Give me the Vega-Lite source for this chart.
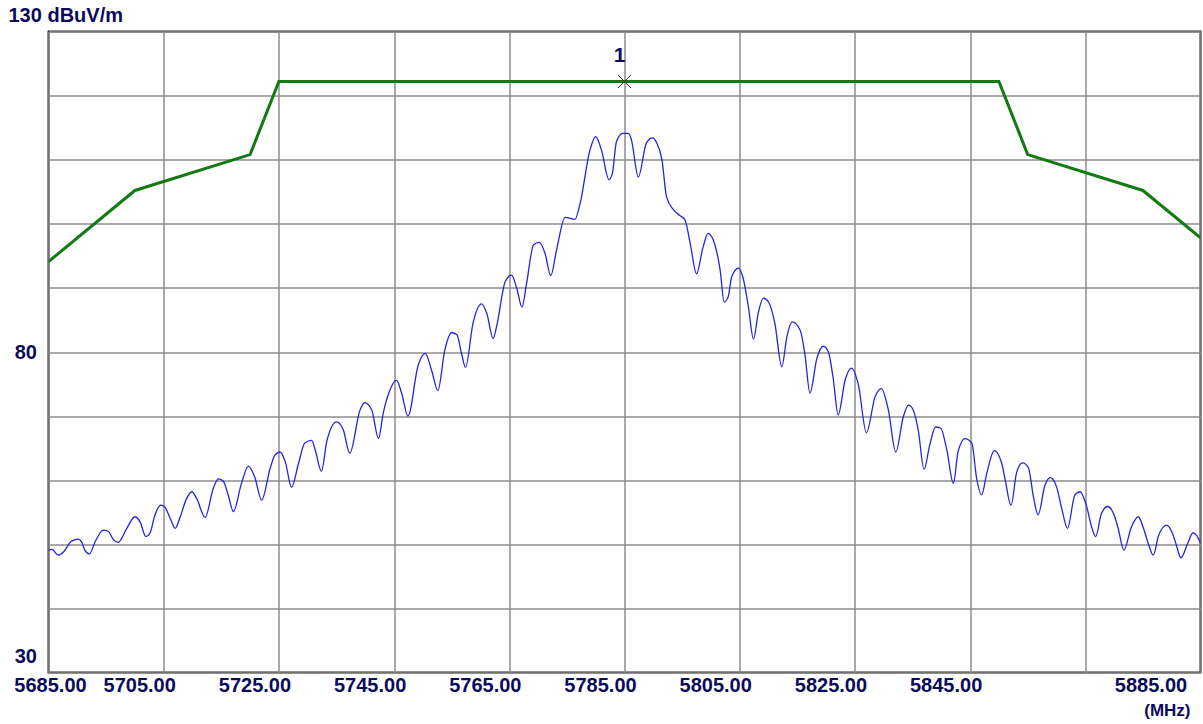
{
  "$schema": "https://vega.github.io/schema/vega-lite/v6.json",
  "width": 1152,
  "height": 641,
  "autosize": "none",
  "padding": {"left": 48.5, "top": 31.5, "right": 2.5, "bottom": 51.5},
  "background": "white",
  "config": {
    "view": {"stroke": "#222222", "strokeWidth": 2},
    "font": "Liberation Sans"
  },
  "datasets": {
    "limit": [
      {"f": 5685, "v": 94.1}, {"f": 5700, "v": 105.2}, {"f": 5720, "v": 110.8}, {"f": 5725, "v": 122.2},
      {"f": 5850, "v": 122.2}, {"f": 5855, "v": 110.8}, {"f": 5875, "v": 105.2}, {"f": 5885, "v": 97.8}
    ],
    "marker": [{"f": 5785, "v": 122.2, "label": "1"}],
    "trace": [
      {"f":5685.0,"v":49.1},{"f":5685.6,"v":49.2},{"f":5686.7,"v":48.3},{"f":5687.6,"v":48.8},{"f":5689.0,"v":50.5},
      {"f":5690.2,"v":50.8},{"f":5690.8,"v":50.3},{"f":5691.3,"v":49.1},{"f":5692.1,"v":48.5},{"f":5693.1,"v":50.4},
      {"f":5694.5,"v":52.2},{"f":5695.4,"v":52.0},{"f":5696.2,"v":50.8},{"f":5697.1,"v":50.3},{"f":5698.6,"v":52.5},
      {"f":5700.0,"v":54.3},{"f":5700.9,"v":53.5},{"f":5701.9,"v":51.2},{"f":5702.6,"v":51.7},{"f":5703.5,"v":54.6},
      {"f":5704.5,"v":56.1},{"f":5705.2,"v":55.8},{"f":5706.1,"v":54.1},{"f":5707.0,"v":52.5},{"f":5707.8,"v":54.1},
      {"f":5709.0,"v":57.2},{"f":5709.9,"v":58.2},{"f":5710.7,"v":57.2},{"f":5712.2,"v":54.2},{"f":5713.6,"v":58.7},
      {"f":5714.5,"v":60.2},{"f":5715.3,"v":59.9},{"f":5716.2,"v":57.7},{"f":5717.1,"v":55.1},{"f":5718.5,"v":59.5},
      {"f":5719.7,"v":62.2},{"f":5720.8,"v":60.5},{"f":5722.0,"v":56.9},{"f":5723.5,"v":61.9},{"f":5724.3,"v":63.9},
      {"f":5725.2,"v":64.4},{"f":5726.1,"v":62.9},{"f":5727.2,"v":58.9},{"f":5728.4,"v":62.6},{"f":5729.5,"v":65.8},
      {"f":5730.7,"v":66.2},{"f":5731.3,"v":64.7},{"f":5732.4,"v":61.4},{"f":5733.3,"v":66.0},{"f":5735.0,"v":69.1},
      {"f":5736.2,"v":67.8},{"f":5737.3,"v":64.2},{"f":5739.1,"v":71.0},{"f":5739.9,"v":72.1},{"f":5741.1,"v":71.0},
      {"f":5742.3,"v":66.5},{"f":5743.1,"v":70.4},{"f":5744.3,"v":74.1},{"f":5745.4,"v":75.6},{"f":5746.3,"v":73.6},
      {"f":5747.4,"v":70.0},{"f":5749.2,"v":78.0},{"f":5750.4,"v":79.8},{"f":5751.5,"v":77.2},{"f":5752.6,"v":74.0},
      {"f":5753.8,"v":80.3},{"f":5755.0,"v":83.0},{"f":5755.9,"v":82.7},{"f":5756.7,"v":79.8},{"f":5757.4,"v":77.6},
      {"f":5758.7,"v":84.5},{"f":5760.2,"v":87.5},{"f":5761.1,"v":86.0},{"f":5762.2,"v":82.1},{"f":5762.8,"v":84.0},
      {"f":5764.3,"v":91.0},{"f":5765.4,"v":92.0},{"f":5766.3,"v":89.9},{"f":5767.2,"v":87.0},{"f":5768.0,"v":90.7},
      {"f":5769.2,"v":96.7},{"f":5770.2,"v":97.1},{"f":5771.2,"v":95.4},{"f":5772.2,"v":91.9},{"f":5773.2,"v":95.9},
      {"f":5774.7,"v":101.0},{"f":5776.4,"v":100.7},{"f":5777.3,"v":103.2},{"f":5779.0,"v":111.5},{"f":5780.0,"v":113.6},
      {"f":5781.0,"v":111.5},{"f":5782.3,"v":106.9},{"f":5782.9,"v":107.9},{"f":5783.6,"v":112.8},{"f":5784.7,"v":114.1},
      {"f":5785.7,"v":114.1},{"f":5786.2,"v":113.1},{"f":5787.4,"v":107.3},{"f":5788.8,"v":112.6},{"f":5789.9,"v":113.4},
      {"f":5790.6,"v":112.6},{"f":5791.5,"v":110.0},{"f":5792.3,"v":104.2},{"f":5793.5,"v":102.2},{"f":5794.6,"v":101.3},
      {"f":5795.5,"v":100.6},{"f":5796.4,"v":97.0},{"f":5797.5,"v":92.2},{"f":5798.6,"v":96.2},{"f":5799.5,"v":98.5},
      {"f":5800.7,"v":96.7},{"f":5801.6,"v":92.8},{"f":5802.3,"v":87.8},{"f":5803.0,"v":88.6},{"f":5803.6,"v":91.7},
      {"f":5804.8,"v":93.1},{"f":5805.6,"v":91.5},{"f":5806.5,"v":87.1},{"f":5807.4,"v":82.0},{"f":5808.2,"v":86.0},
      {"f":5809.1,"v":88.4},{"f":5810.0,"v":87.8},{"f":5811.1,"v":84.5},{"f":5812.3,"v":77.7},{"f":5813.2,"v":82.4},
      {"f":5814.1,"v":84.7},{"f":5815.5,"v":83.4},{"f":5816.3,"v":79.8},{"f":5817.2,"v":73.6},{"f":5818.4,"v":79.0},
      {"f":5819.5,"v":80.9},{"f":5820.4,"v":80.0},{"f":5821.2,"v":76.1},{"f":5822.1,"v":70.2},{"f":5823.3,"v":75.6},
      {"f":5824.4,"v":77.5},{"f":5825.6,"v":74.9},{"f":5827.0,"v":67.4},{"f":5828.5,"v":73.0},{"f":5829.6,"v":74.3},
      {"f":5830.8,"v":71.0},{"f":5832.1,"v":64.4},{"f":5833.4,"v":69.9},{"f":5834.3,"v":71.7},{"f":5835.1,"v":71.0},
      {"f":5836.0,"v":67.8},{"f":5837.0,"v":61.7},{"f":5838.0,"v":65.5},{"f":5839.0,"v":68.3},{"f":5839.9,"v":68.1},
      {"f":5840.9,"v":65.0},{"f":5842.1,"v":59.5},{"f":5842.9,"v":64.4},{"f":5844.1,"v":66.5},{"f":5845.3,"v":65.8},
      {"f":5846.1,"v":60.5},{"f":5847.0,"v":57.7},{"f":5847.9,"v":61.1},{"f":5849.2,"v":64.6},{"f":5850.5,"v":62.6},
      {"f":5851.1,"v":60.0},{"f":5852.1,"v":56.1},{"f":5853.1,"v":61.3},{"f":5854.1,"v":62.7},{"f":5855.1,"v":62.0},
      {"f":5856.0,"v":57.4},{"f":5856.8,"v":54.6},{"f":5858.0,"v":59.2},{"f":5858.9,"v":60.4},{"f":5860.0,"v":59.0},
      {"f":5860.9,"v":55.6},{"f":5861.9,"v":52.5},{"f":5863.2,"v":57.7},{"f":5864.1,"v":58.2},{"f":5865.2,"v":56.0},
      {"f":5866.1,"v":52.7},{"f":5866.8,"v":51.2},{"f":5867.8,"v":54.8},{"f":5868.9,"v":55.9},{"f":5869.9,"v":54.8},
      {"f":5870.7,"v":52.5},{"f":5871.7,"v":49.1},{"f":5873.0,"v":52.7},{"f":5874.2,"v":54.3},{"f":5875.1,"v":52.5},
      {"f":5875.9,"v":50.2},{"f":5876.8,"v":48.3},{"f":5877.7,"v":51.3},{"f":5879.1,"v":53.0},{"f":5880.0,"v":52.0},
      {"f":5880.7,"v":50.2},{"f":5881.6,"v":47.9},{"f":5882.8,"v":50.2},{"f":5883.7,"v":51.8},{"f":5884.3,"v":51.4},
      {"f":5885.0,"v":50.2}
    ]
  },
  "layer": [
    {
      "data": {"name": "limit"},
      "mark": {"type": "line", "color": "#137a13", "strokeWidth": 3, "clip": true},
      "encoding": {
        "x": {
          "field": "f", "type": "quantitative",
          "scale": {"domain": [5685, 5885], "nice": false, "zero": false},
          "axis": {
            "values": [5685, 5705, 5725, 5745, 5765, 5785, 5805, 5825, 5845, 5865, 5885],
            "grid": true, "gridColor": "#8c8c8c", "gridWidth": 1.5,
            "domain": false, "ticks": false,
            "labelExpr": "datum.value == 5865 ? '' : format(datum.value, '.2f')",
            "labelFont": "Liberation Sans", "labelFontWeight": "bold", "labelFontSize": 20,
            "labelColor": "#0b0b5c", "labelPadding": 3,
            "labelOverlap": false, "labelFlush": false, "labelBound": false,
            "labelOffset": {
              "condition": [
                {"test": "datum.value == 5685", "value": 1.5},
                {"test": "datum.value == 5885", "value": -50}
              ],
              "value": -24.5
            },
            "title": "(MHz)", "titleFont": "Liberation Sans", "titleFontWeight": "bold", "titleFontSize": 17,
            "titleColor": "#0b0b5c", "titleX": 1141.5, "titleY": 38, "titleAlign": "right", "titleBaseline": "middle"
          }
        },
        "y": {
          "field": "v", "type": "quantitative",
          "scale": {"domain": [30, 130], "nice": false, "zero": false},
          "axis": {
            "values": [30, 40, 50, 60, 70, 80, 90, 100, 110, 120, 130],
            "grid": true, "gridColor": "#8c8c8c", "gridWidth": 1.5,
            "domain": false, "ticks": false,
            "labelExpr": "datum.value == 80 || datum.value == 30 ? datum.label : ''",
            "labelFont": "Liberation Sans", "labelFontWeight": "bold", "labelFontSize": 20,
            "labelColor": "#0b0b5c", "labelPadding": 12, "labelOverlap": false, "labelBound": false,
            "labelOffset": {"condition": {"test": "datum.value == 30", "value": -16}, "value": 0},
            "title": "130 dBuV/m", "titleFont": "Liberation Sans", "titleFontWeight": "bold", "titleFontSize": 20,
            "titleColor": "#0b0b5c", "titleAngle": 0, "titleX": -40.5, "titleY": -16.5,
            "titleAlign": "left", "titleBaseline": "middle"
          }
        }
      }
    },
    {
      "data": {"name": "trace"},
      "mark": {"type": "line", "color": "#2323e0", "strokeWidth": 1.3, "clip": true, "interpolate": "monotone"},
      "encoding": {
        "x": {"field": "f", "type": "quantitative"},
        "y": {"field": "v", "type": "quantitative"}
      }
    },
    {
      "data": {"name": "marker"},
      "mark": {"type": "point", "shape": "M-1,-1L1,1M-1,1L1,-1", "size": 170, "filled": false, "stroke": "#333333", "strokeWidth": 1, "opacity": 1},
      "encoding": {
        "x": {"field": "f", "type": "quantitative"},
        "y": {"field": "v", "type": "quantitative"}
      }
    },
    {
      "data": {"name": "marker"},
      "mark": {"type": "text", "dx": -5, "dy": -25, "font": "Liberation Sans", "fontWeight": "bold", "fontSize": 21, "color": "#0b0b5c"},
      "encoding": {
        "x": {"field": "f", "type": "quantitative"},
        "y": {"field": "v", "type": "quantitative"},
        "text": {"field": "label"}
      }
    }
  ]
}
